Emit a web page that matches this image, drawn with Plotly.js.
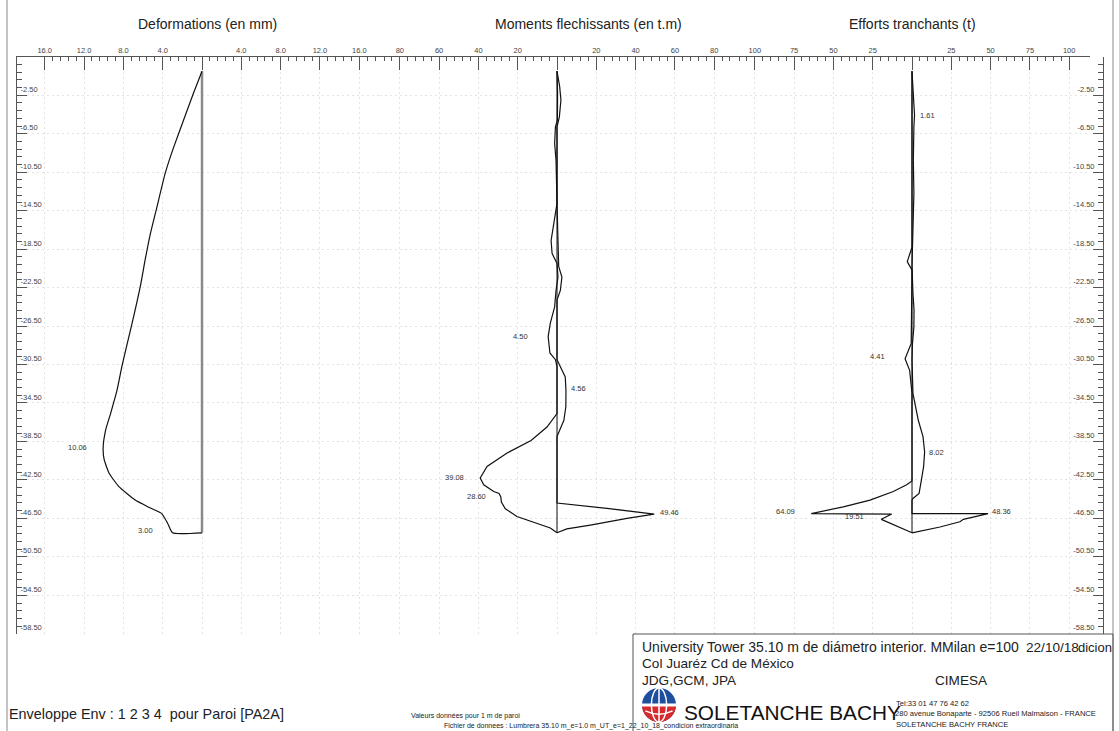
<!DOCTYPE html>
<html><head><meta charset="utf-8">
<script src="https://cdn.plot.ly/plotly-3.0.1.min.js"></script>
<style>html,body{margin:0;padding:0;background:#fff;}#chart{width:1119px;height:731px;}</style>
</head><body><div id="chart"></div>
<script>
// ---------------- DATA ----------------
// Wall extent (m)
const wallLevel = [0, -48.0];
const wallValue = [0, 0];

// Deformations (mm) vs level (m)
const defLevel = [0,-2.3,-5.1,-7.9,-10.6,-14.1,-16.9,-19.6,-22.4,-25.5,-28.3,-30.7,-33.2,-35.6,-37.3,-39.2,-40.4,-41.8,-43.2,-44.6,-45.4,-46.0,-47.0,-48.0,-48.0];
const defValue = [0,-0.87,-1.88,-2.88,-3.74,-4.58,-5.25,-5.78,-6.28,-6.95,-7.6,-8.15,-8.65,-9.3,-9.8,-10.06,-9.95,-9.45,-8.45,-6.8,-5.3,-4.1,-3.5,-3.0,0];

// Moments flechissants (t.m) : envelope max / min
const momMaxLevel = [0,-1.6,-3.0,-4.75,-5.8,-13.75,-20.3,-21.4,-22.8,-23.8,-30.0,-31.8,-33.2,-34.9,-36.3,-37.7,-38.0,-44.9,-45.45,-46.05,-46.5,-47.2,-47.6,-48.0];
const momMaxValue = [0,1.36,2.0,1.2,0,0,0.85,2.5,1.7,0,0,4.2,4.56,4.5,3.5,0.5,0,0,25.4,49.46,35.6,17,5,0];
const momMinLevel = [0,-2.3,-5.1,-5.8,-7.5,-9.25,-13.75,-16.2,-17.6,-18.95,-20.0,-21.4,-22.8,-24.5,-26.2,-27.6,-29.3,-30.0,-30.7,-35.6,-37.0,-38.4,-39.7,-41.1,-42.3,-43.0,-43.7,-43.9,-44.25,-44.8,-45.5,-46.3,-47.0,-47.5,-48.0];
const momMinValue = [0,0.3,0.2,-0.8,-1.2,-0.5,0,-1.7,-3.0,-2.5,0,0.5,-0.5,-1.2,-3.4,-4.50,-3.6,-0.8,0,0,-5.1,-13.2,-25.4,-35.6,-39.08,-37.3,-32.2,-29.5,-28.6,-28.3,-26.3,-20.4,-10.2,-3.4,0];

// Efforts tranchants (t) : envelope max / min
const shMaxLevel = [0,-3.4,-4.57,-5.8,-9.25,-12.7,-16.2,-18.3,-20.3,-23.1,-24.8,-26.6,-28.3,-30.0,-33.5,-36.3,-38.0,-39.6,-41.1,-42.5,-43.9,-44.4,-44.6,-46.0,-46.0,-46.6,-46.85,-47.4,-48.0];
const shMaxValue = [0,0.85,1.61,1.2,0.85,1.2,0.8,0.3,0,0.6,1.3,1.2,0.3,0,0.6,4.0,7.0,8.02,7.4,6.0,4.5,0.8,0,0,48.36,32.7,30.5,17.8,0];
const shMinLevel = [0,-18.3,-19.8,-20.7,-28.3,-29.9,-31.1,-33.5,-42.6,-43.0,-43.7,-44.6,-45.3,-46.0,-46.05,-46.6,-48.0];
const shMinValue = [0,0,-3.0,0,-0.5,-4.41,-1.5,0,0,-3.4,-11.9,-26.7,-43.7,-64.09,-12.9,-19.51,0];

// Tick labels
const yTickVals = [-2.5,-6.5,-10.5,-14.5,-18.5,-22.5,-26.5,-30.5,-34.5,-38.5,-42.5,-46.5,-50.5,-54.5,-58.5];
const yTickText = ['-2.50','-6.50','-10.50','-14.50','-18.50','-22.50','-26.50','-30.50','-34.50','-38.50','-42.50','-46.50','-50.50','-54.50','-58.50'];
const defTickVals = [-16,-12,-8,-4,0,4,8,12,16];
const defTickText = ['16.0','12.0','8.0','4.0','','4.0','8.0','12.0','16.0'];
const momTickVals = [-80,-60,-40,-20,0,20,40,60,80];
const momTickText = ['80','60','40','20','','20','40','60','80'];
const shTickVals = [-100,-75,-50,-25,0,25,50,75,100];
const shTickText = ['100','75','50','25','','25','50','75','100'];

// Panel titles
const panelTitles = ['Deformations (en mm)','Moments flechissants (en t.m)','Efforts tranchants (t)'];

// Value labels: [axis, value, level]
const valueLabels = [
  ['x', -10.06, -39.2], ['x', -3.00, -48.0],
  ['x2', -4.50, -27.6], ['x2', 4.56, -33.2], ['x2', -39.08, -42.3], ['x2', -28.60, -44.25], ['x2', 49.46, -46.05],
  ['x3', 1.61, -4.57], ['x3', -4.41, -29.9], ['x3', 8.02, -39.6], ['x3', -64.09, -46.0], ['x3', -19.51, -46.6], ['x3', 48.36, -46.0]
];
const labelOffsets = [[-14,1],[-18,2],[-18,0],[3,2],[-14,0],[-13,0],[4,2],[3,0],[-18,2],[2,0],[-14,2],[-15,3],[2,2]];

// ---------------- LAYOUT GEOMETRY ----------------
const L=17, R=1103, T=57, B=634;
const px = x => (x-L)/(R-L);
const py = y => (B-y)/(B-T);
const defZero=202, defScale=9.83;
const momZero=557, momScale=1.965;
const shZero=912, shScale=1.572;
const split1=379.5, split2=734.5, shEnd=1090;
const yPxPerM=9.62, yZeroPx=71.2;
const yTop=(yZeroPx-T)/yPxPerM, yBot=-(B-yZeroPx)/yPxPerM - 0.02;

const FONT='Liberation Sans, Arial, sans-serif';
const tickFont={family:FONT,size:7.5,color:'#444'};
const gridStyle={showgrid:true,gridcolor:'#e3e3e3',griddash:'2px,3px',gridwidth:1};

function xAxis(domain, range, vals, text, minorD){
  return Object.assign({
    domain, range, side:'top', anchor:'y', showline:true, linecolor:'#555', linewidth:1,
    ticks:'inside', ticklen:13, tickcolor:'#555', tickwidth:1, tickfont:tickFont,
    tickmode:'array', tickvals:vals, ticktext:text, zeroline:false, fixedrange:true,
    minor:{ticks:'inside', ticklen:4, tickcolor:'#555', tickmode:'linear', tick0:0, dtick:minorD, showgrid:false}
  }, gridStyle);
}
function yAxisBase(){
  return {
    range:[yBot,yTop], showline:true, linecolor:'#555', linewidth:1,
    ticks:'inside', ticklen:10, tickcolor:'#555', tickmode:'array', tickvals:yTickVals, ticktext:yTickText,
    ticklabelposition:'inside', ticklabelshift:-6, tickfont:tickFont, zeroline:false, fixedrange:true,
    minor:{ticks:'inside', ticklen:5, tickcolor:'#555', tickmode:'linear', tick0:-2.5, dtick:0.8, showgrid:false}
  };
}

const lineStyle={color:'#111',width:1.2};
const traces=[
  {x:wallValue,y:wallLevel,xaxis:'x',yaxis:'y',mode:'lines',line:{color:'#8a8a8a',width:2.5}},
  {x:defValue,y:defLevel,xaxis:'x',yaxis:'y',mode:'lines',line:{color:'#111',width:1.2,shape:'spline',smoothing:0.5}},
  {x:wallValue,y:wallLevel,xaxis:'x2',yaxis:'y',mode:'lines',line:{color:'#111',width:1}},
  {x:momMaxValue,y:momMaxLevel,xaxis:'x2',yaxis:'y',mode:'lines',line:lineStyle},
  {x:momMinValue,y:momMinLevel,xaxis:'x2',yaxis:'y',mode:'lines',line:lineStyle},
  {x:wallValue,y:wallLevel,xaxis:'x3',yaxis:'y',mode:'lines',line:{color:'#111',width:1}},
  {x:shMaxValue,y:shMaxLevel,xaxis:'x3',yaxis:'y',mode:'lines',line:lineStyle},
  {x:shMinValue,y:shMinLevel,xaxis:'x3',yaxis:'y',mode:'lines',line:lineStyle},
  {x:wallValue,y:wallLevel,xaxis:'x3',yaxis:'y2',mode:'lines',line:{color:'rgba(0,0,0,0)',width:0},hoverinfo:'skip'}
].map(t=>Object.assign({showlegend:false,hoverinfo:'skip'},t));

function txt(text,x,y,size,anchor,extra){
  return Object.assign({text,xref:'paper',yref:'paper',x:px(x),y:py(y),xanchor:anchor||'left',yanchor:'middle',
    showarrow:false,font:{family:FONT,size,color:'#222'}},extra||{});
}

const annotations=[
  txt(panelTitles[0],207,24,14,'center'),
  txt(panelTitles[1],588,24,14,'center'),
  txt(panelTitles[2],912,24,14,'center'),
  txt('Enveloppe Env : 1 2 3 4  pour Paroi [PA2A]',7,714,14.4,'left'),
  txt('Valeurs données pour 1 m de paroi',409,716,7,'left'),
  txt('Fichier de donnees : Lumbrera 35.10 m_e=1.0 m_UT_e=1_22_10_18_condicion extraordinaria',442,726,7,'left'),
  txt('University Tower 35.10 m de diámetro interior. MMilan e=100',640,647,14,'left'),
  txt('22/10/18',1024,647,13.6,'left'),
  txt('dicion',1076,647,13,'left'),
  txt('Col Juaréz Cd de México',640,663,13.6,'left'),
  txt('JDG,GCM, JPA',640,680,13.6,'left'),
  txt('CIMESA',933,680,13.6,'left'),
  txt('SOLETANCHE BACHY',682,712,20.8,'left',{font:{family:FONT,size:20.8,color:'#111'}}),
  txt('Tel:33 01 47 76 42 62',894,703,7.6,'left'),
  txt('280 avenue Bonaparte - 92506 Rueil Malmaison - FRANCE',893,713,7.6,'left'),
  txt('SOLETANCHE BACHY FRANCE',894,724,7.6,'left')
];
valueLabels.forEach((v,i)=>{
  const [ax,val,lev]=v; const [dx,dy]=labelOffsets[i];
  annotations.push({text:Math.abs(val).toFixed(2),xref:ax,yref:'y',x:val,y:lev,
    xanchor:dx<0?'right':'left',yanchor:'middle',xshift:dx,yshift:dy,showarrow:false,
    font:{family:FONT,size:7.5,color:'#333'}});
});

// Globe logo geometry (pixels)
const gx=659, gy=705, gr=17, k=0.5523;
const P=(x,y)=>px(x)+','+py(y);
const lowerHalf='M'+P(gx-gr,gy)+' C'+P(gx-gr,gy+k*gr)+' '+P(gx-k*gr,gy+gr)+' '+P(gx,gy+gr)+
  ' C'+P(gx+k*gr,gy+gr)+' '+P(gx+gr,gy+k*gr)+' '+P(gx+gr,gy)+' Z';
const lowerArc='M'+P(gx-gr*0.8,gy+gr*0.35)+' Q'+P(gx,gy+gr*0.75)+' '+P(gx+gr*0.8,gy+gr*0.35);

const shapes=[
  {type:'line',xref:'paper',yref:'paper',x0:px(7),x1:px(7),y0:py(0),y1:py(731),line:{color:'#8a8a8a',width:1}},
  {type:'line',xref:'paper',yref:'paper',x0:px(1113),x1:px(1113),y0:py(0),y1:py(731),line:{color:'#8a8a8a',width:1}},
  {type:'rect',xref:'paper',yref:'paper',x0:px(633),x1:px(1113),y0:py(634),y1:py(740),line:{color:'#555',width:1},fillcolor:'rgba(0,0,0,0)'},
  {type:'circle',xref:'paper',yref:'paper',x0:px(gx-gr),x1:px(gx+gr),y0:py(gy+gr),y1:py(gy-gr),fillcolor:'#1d4f9e',line:{width:0}},
  {type:'path',xref:'paper',yref:'paper',path:lowerHalf,fillcolor:'#d62a2f',line:{width:0}},
  {type:'circle',xref:'paper',yref:'paper',x0:px(gx-gr*0.45),x1:px(gx+gr*0.45),y0:py(gy+gr),y1:py(gy-gr),line:{color:'#fff',width:1.5}},
  {type:'line',xref:'paper',yref:'paper',x0:px(gx),x1:px(gx),y0:py(gy-gr),y1:py(gy+gr),line:{color:'#fff',width:1.5}},
  {type:'line',xref:'paper',yref:'paper',x0:px(gx-gr),x1:px(gx+gr),y0:py(gy),y1:py(gy),line:{color:'#fff',width:3}},
  {type:'path',xref:'paper',yref:'paper',path:lowerArc,line:{color:'#fff',width:1.5}}
];

const layout={
  width:1119,height:731,margin:{l:L,r:1119-R,t:T,b:731-B,pad:0},
  paper_bgcolor:'#fff',plot_bgcolor:'#fff',showlegend:false,
  xaxis:xAxis([0,px(split1)],[(L-defZero)/defScale,(split1-defZero)/defScale],defTickVals,defTickText,0.8),
  xaxis2:xAxis([px(split1),px(split2)],[(split1-momZero)/momScale,(split2-momZero)/momScale],momTickVals,momTickText,4),
  xaxis3:xAxis([px(split2),px(shEnd)],[(split2-shZero)/shScale,(shEnd-shZero)/shScale],shTickVals,shTickText,5),
  yaxis:Object.assign(yAxisBase(),{anchor:'x',side:'left',ticklabelstandoff:-8},gridStyle),
  yaxis2:Object.assign(yAxisBase(),{overlaying:'y',anchor:'free',position:1,side:'right',ticklabelstandoff:-3,showgrid:false}),
  annotations,shapes
};

Plotly.newPlot('chart',traces,layout,{displayModeBar:false,staticPlot:true});
</script></body></html>
